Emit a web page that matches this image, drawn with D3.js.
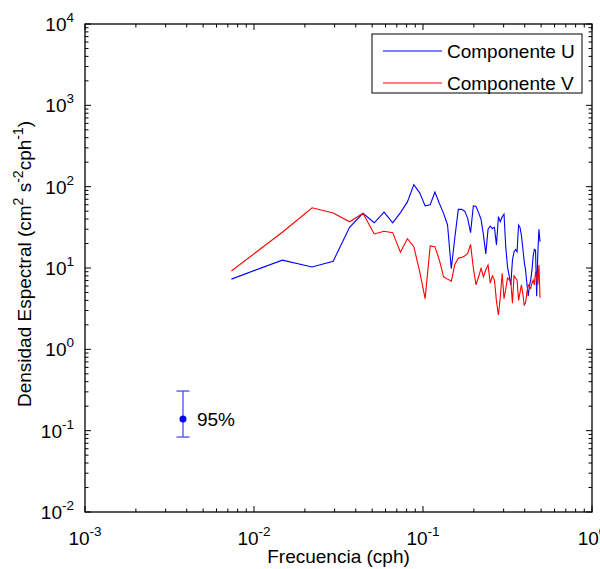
<!DOCTYPE html>
<html lang="es">
<head>
<meta charset="UTF-8">
<title>Densidad espectral</title>
<script src="https://d3js.org/d3.v7.min.js"></script>
<style>
  body { margin: 0; background: #fff; }
  svg text { font-family: "Liberation Sans", Arial, sans-serif; fill: #000; }
</style>
</head>
<body>
<div id="chart"></div>
<script>
// frecuencias (cph)
const freq = [0.00735, 0.01471, 0.02206, 0.02941, 0.03676, 0.04412, 0.05147, 0.05882, 0.06618, 0.07353,
  0.08088, 0.08824, 0.09559, 0.10294, 0.11029, 0.11765, 0.125, 0.13235, 0.13971, 0.14706,
  0.15441, 0.16176, 0.16912, 0.17647, 0.18382, 0.19118, 0.19853, 0.20588, 0.21324, 0.22059,
  0.22794, 0.23529, 0.24265, 0.25, 0.25735, 0.26471, 0.27206, 0.27941, 0.28676, 0.29412,
  0.30147, 0.30882, 0.31618, 0.32353, 0.33088, 0.33824, 0.34559, 0.35294, 0.36029, 0.36765,
  0.375, 0.38235, 0.38971, 0.39706, 0.40441, 0.41176, 0.41912, 0.42647, 0.43382, 0.44118,
  0.44853, 0.45588, 0.46324, 0.47059, 0.47794, 0.48529, 0.49265];

const compU = [7.3, 12.5, 10.3, 12.1, 31.6, 47, 36, 48.7, 36, 48,
  65, 106, 84, 58, 60, 86, 62, 47, 33.8, 9.8,
  24, 52.6, 52.6, 50, 40.8, 27.2, 58, 57, 48, 39.6,
  25.4, 14.9, 29.9, 32.8, 30.6, 31.6, 19.2, 42.7, 37, 42.7,
  46, 18.3, 10.4, 8, 6.2, 12.5, 15.8, 16.9, 15.8, 33.8,
  31.6, 25, 17.5, 12, 9.4, 6.5, 4.5, 6, 7.1, 9.4,
  14, 16.9, 16.6, 4.5, 15, 30, 21];

const compV = [9.2, 27.5, 55, 47.5, 37, 47, 26.2, 28.3, 27.2, 15.6,
  22.9, 18.3, 9, 4.2, 18.7, 18.3, 12.5, 7.8, 7.3, 6.9,
  11.1, 13.2, 13.5, 14, 15.1, 19.5, 10, 6.2, 7.8, 9.9,
  7.8, 9.5, 10.9, 6.5, 8, 7.1, 3.9, 2.64, 4.4, 8.6,
  4.2, 5.5, 7.5, 7.2, 6.8, 3.7, 8, 7.5, 7.1, 4.0,
  5, 6.2, 4.8, 3.5, 3.7, 5.0, 6.2, 5.9, 5.6, 6.5,
  7.1, 6.2, 9.0, 7.5, 6.2, 10.9, 4.3];

// intervalo de confianza 95%
const ciFreq = 0.0038;
const ciValue = 0.139;
const ciLow = 0.0835;
const ciHigh = 0.307;

const xExponents = ["-3", "-2", "-1", "0"];
const yExponents = ["-2", "-1", "0", "1", "2", "3", "4"];
const seriesNames = ["Componente U", "Componente V"];

const margin = { top: 24, right: 8, bottom: 57, left: 85 };
const width = 600 - margin.left - margin.right;
const height = 569 - margin.top - margin.bottom;

const svg = d3.select("#chart")
  .append("svg")
  .attr("width", 600)
  .attr("height", 569);

const g = svg.append("g")
  .attr("transform", `translate(${margin.left},${margin.top})`);

const x = d3.scaleLog().domain([1e-3, 1]).range([0, width]);
const y = d3.scaleLog().domain([1e-2, 1e4]).range([height, 0]);

// ticks (hacia dentro, en los cuatro lados)
const xMajor = xExponents.map(e => Math.pow(10, +e));
const yMajor = yExponents.map(e => Math.pow(10, +e));
const xMinor = [], yMinor = [];
xMajor.slice(0, -1).forEach(d => { for (let m = 2; m <= 9; m++) xMinor.push(d * m); });
yMajor.slice(0, -1).forEach(d => { for (let m = 2; m <= 9; m++) yMinor.push(d * m); });

const majLen = 6, minLen = 3.5;
const tickG = g.append("g").attr("stroke", "#000").attr("stroke-width", 1);

[[xMajor, majLen], [xMinor, minLen]].forEach(([vals, len]) => {
  vals.forEach(v => {
    tickG.append("line").attr("x1", x(v)).attr("x2", x(v)).attr("y1", height).attr("y2", height - len);
    tickG.append("line").attr("x1", x(v)).attr("x2", x(v)).attr("y1", 0).attr("y2", len);
  });
});
[[yMajor, majLen], [yMinor, minLen]].forEach(([vals, len]) => {
  vals.forEach(v => {
    tickG.append("line").attr("y1", y(v)).attr("y2", y(v)).attr("x1", 0).attr("x2", len);
    tickG.append("line").attr("y1", y(v)).attr("y2", y(v)).attr("x1", width).attr("x2", width - len);
  });
});

// caja
g.append("rect")
  .attr("width", width)
  .attr("height", height)
  .attr("fill", "none")
  .attr("stroke", "#000")
  .attr("stroke-width", 1.3);

// etiquetas de ticks
const xLab = g.append("g").attr("font-size", 19);
xExponents.forEach((e, i) => {
  const t = xLab.append("text")
    .attr("x", x(xMajor[i]))
    .attr("y", height + 33)
    .attr("text-anchor", "middle");
  t.append("tspan").text("10");
  t.append("tspan").attr("dy", -9).attr("font-size", 13.5).text(e);
});

const yLab = g.append("g").attr("font-size", 19);
yExponents.forEach((e, i) => {
  const t = yLab.append("text")
    .attr("x", -11)
    .attr("y", y(yMajor[i]) + 7)
    .attr("text-anchor", "end");
  t.append("tspan").text("10");
  t.append("tspan").attr("dy", -9).attr("font-size", 13.5).text(e);
});

// series
const line = d3.line()
  .x(d => x(d[0]))
  .y(d => y(d[1]));

g.append("path")
  .datum(d3.zip(freq, compU))
  .attr("fill", "none")
  .attr("stroke", "#0000ff")
  .attr("stroke-width", 1.1)
  .attr("d", line);

g.append("path")
  .datum(d3.zip(freq, compV))
  .attr("fill", "none")
  .attr("stroke", "#ff0000")
  .attr("stroke-width", 1.1)
  .attr("d", line);

// barra de error 95%
const ci = g.append("g").attr("stroke", "#4a4aff").attr("stroke-width", 1.3);
ci.append("line").attr("x1", x(ciFreq)).attr("x2", x(ciFreq)).attr("y1", y(ciLow)).attr("y2", y(ciHigh));
ci.append("line").attr("x1", x(ciFreq) - 6.5).attr("x2", x(ciFreq) + 6.5).attr("y1", y(ciLow)).attr("y2", y(ciLow));
ci.append("line").attr("x1", x(ciFreq) - 6.5).attr("x2", x(ciFreq) + 6.5).attr("y1", y(ciHigh)).attr("y2", y(ciHigh));
g.append("circle")
  .attr("cx", x(ciFreq))
  .attr("cy", y(ciValue))
  .attr("r", 3.5)
  .attr("fill", "#0000ff");
g.append("text")
  .attr("x", x(ciFreq) + 14)
  .attr("y", y(ciValue) + 7)
  .attr("font-size", 19)
  .text("95%");

// leyenda
const legend = g.append("g")
  .attr("transform", `translate(${372 - margin.left},${34 - margin.top})`);
legend.append("rect")
  .attr("width", 210)
  .attr("height", 59)
  .attr("fill", "#fff")
  .attr("stroke", "#000")
  .attr("stroke-width", 1);
const legendColors = ["#0000ff", "#ff0000"];
seriesNames.forEach((name, i) => {
  legend.append("line")
    .attr("x1", 11).attr("x2", 70)
    .attr("y1", 17 + i * 32).attr("y2", 17 + i * 32)
    .attr("stroke", legendColors[i])
    .attr("stroke-width", 1);
  legend.append("text")
    .attr("x", 75)
    .attr("y", 17 + i * 32 + 7)
    .attr("font-size", 19)
    .text(name);
});

// títulos de ejes
svg.append("text")
  .attr("x", margin.left + width / 2)
  .attr("y", 563)
  .attr("text-anchor", "middle")
  .attr("font-size", 19)
  .text("Frecuencia (cph)");

const yt = svg.append("text")
  .attr("transform", "translate(31,264) rotate(-90)")
  .attr("text-anchor", "middle")
  .attr("font-size", 19);
yt.append("tspan").text("Densidad Espectral (cm");
yt.append("tspan").attr("dy", -8).attr("font-size", 14).text("2");
yt.append("tspan").attr("dy", 8).text(" s");
yt.append("tspan").attr("dy", -8).attr("font-size", 14).text("-2");
yt.append("tspan").attr("dy", 8).text("cph");
yt.append("tspan").attr("dy", -8).attr("font-size", 14).text("-1");
yt.append("tspan").attr("dy", 8).text(")");
</script>
</body>
</html>
